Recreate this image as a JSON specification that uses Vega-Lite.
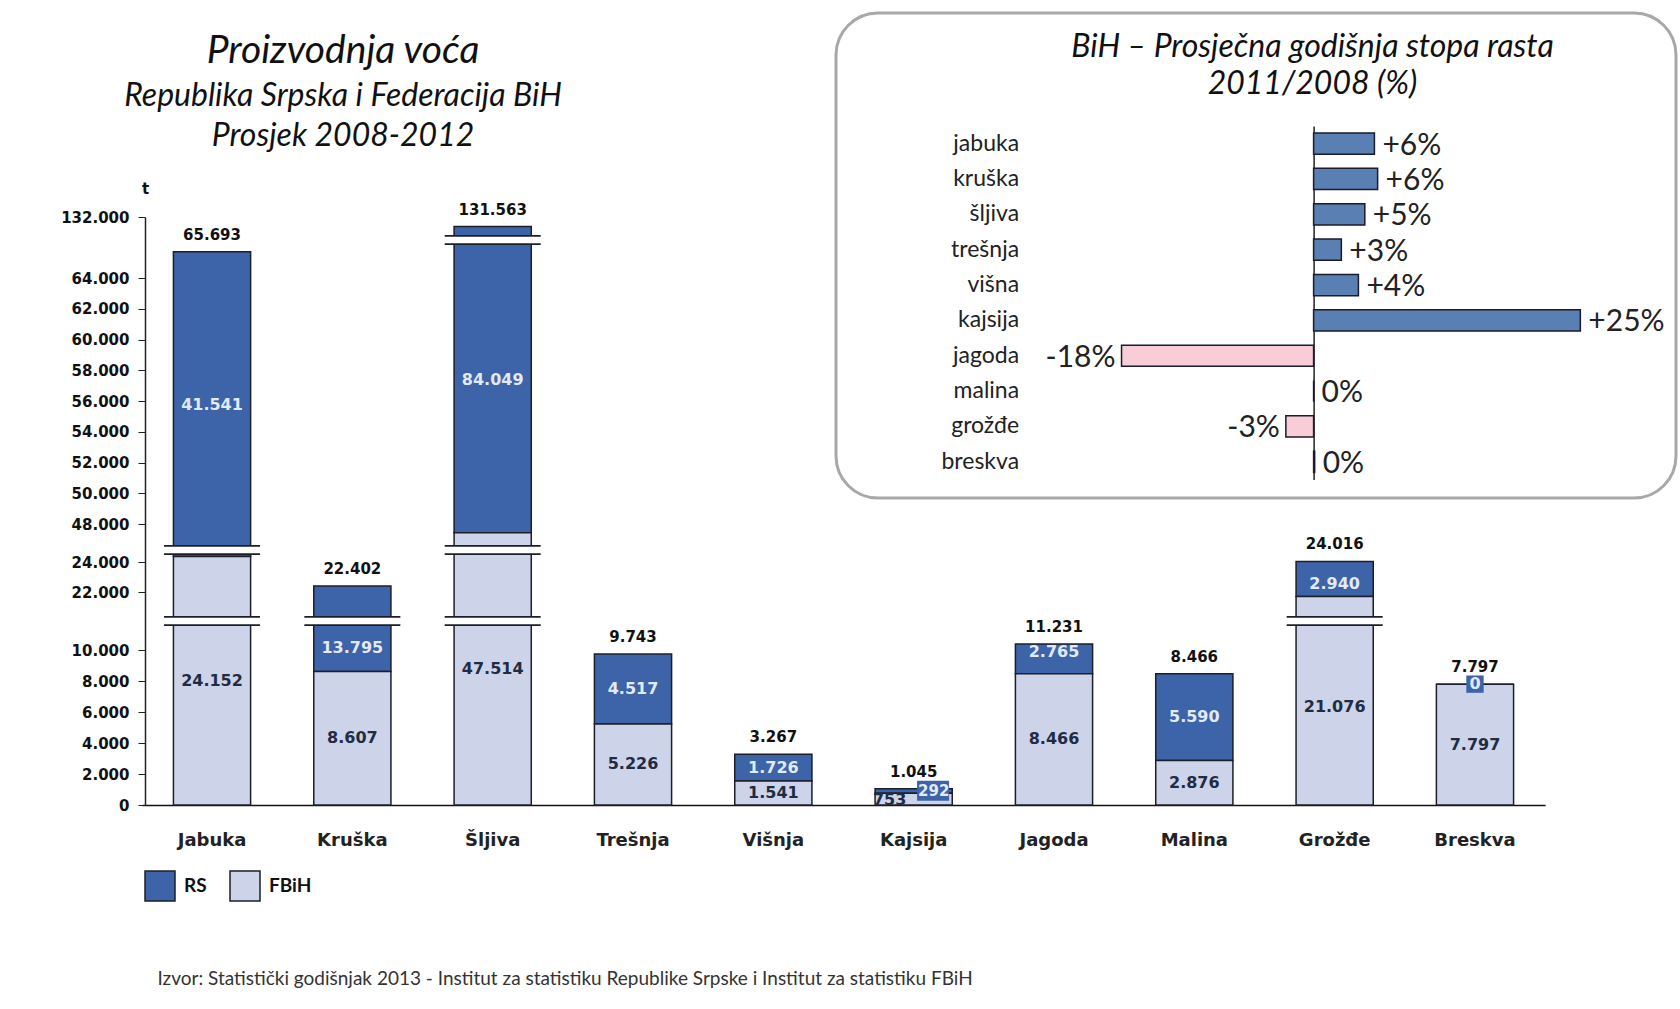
{
  "$schema": "https://vega.github.io/schema/vega-lite/v6.json",
  "autosize": "none",
  "width": 840,
  "height": 485,
  "padding": {"left": 836, "top": 13, "right": 4, "bottom": 511},
  "background": "white",
  "config": {
    "locale": {"number": {"decimal": ",", "thousands": ".", "grouping": [3], "currency": ["", ""]}},
    "view": {"cornerRadius": 42, "stroke": "#a8a8a8", "strokeWidth": 3, "fill": "white"},
    "axis": {"grid": false},
    "font": "Lato"
  },
  "title": {
    "text": "Proizvodnja voća",
    "subtitle": ["Republika Srpska i Federacija BiH", "Prosjek 2008-2012"],
    "anchor": "start",
    "align": "center",
    "frame": "group",
    "dx": -493,
    "dy": 143,
    "offset": 4,
    "font": "Lato",
    "fontSize": 39,
    "fontStyle": "italic",
    "fontWeight": "normal",
    "color": "#111",
    "subtitleFont": "Lato",
    "subtitleFontSize": 32,
    "subtitleFontStyle": "italic",
    "subtitleColor": "#111",
    "subtitlePadding": 10,
    "subtitleLineHeight": 40
  },
  "datasets": {
    "prod": [
      {"fruit": "Jabuka", "series": "RS", "value": 41541},
      {"fruit": "Jabuka", "series": "FBiH", "value": 24152},
      {"fruit": "Kruška", "series": "RS", "value": 13795},
      {"fruit": "Kruška", "series": "FBiH", "value": 8607},
      {"fruit": "Šljiva", "series": "RS", "value": 84049},
      {"fruit": "Šljiva", "series": "FBiH", "value": 47514},
      {"fruit": "Trešnja", "series": "RS", "value": 4517},
      {"fruit": "Trešnja", "series": "FBiH", "value": 5226},
      {"fruit": "Višnja", "series": "RS", "value": 1726},
      {"fruit": "Višnja", "series": "FBiH", "value": 1541},
      {"fruit": "Kajsija", "series": "RS", "value": 292},
      {"fruit": "Kajsija", "series": "FBiH", "value": 753},
      {"fruit": "Jagoda", "series": "RS", "value": 2765},
      {"fruit": "Jagoda", "series": "FBiH", "value": 8466},
      {"fruit": "Malina", "series": "RS", "value": 5590},
      {"fruit": "Malina", "series": "FBiH", "value": 2876},
      {"fruit": "Grožđe", "series": "RS", "value": 2940},
      {"fruit": "Grožđe", "series": "FBiH", "value": 21076},
      {"fruit": "Breskva", "series": "RS", "value": 0},
      {"fruit": "Breskva", "series": "FBiH", "value": 7797}
    ],
    "growth": [
      {"name": "jabuka", "growth": 5.7, "label": "+6%"},
      {"name": "kruška", "growth": 6.0, "label": "+6%"},
      {"name": "šljiva", "growth": 4.8, "label": "+5%"},
      {"name": "trešnja", "growth": 2.6, "label": "+3%"},
      {"name": "višna", "growth": 4.2, "label": "+4%"},
      {"name": "kajsija", "growth": 25.0, "label": "+25%"},
      {"name": "jagoda", "growth": -18.0, "label": "-18%"},
      {"name": "malina", "growth": 0, "label": "0%"},
      {"name": "grožđe", "growth": -2.6, "label": "-3%"},
      {"name": "breskva", "growth": 0.1, "label": "0%"}
    ]
  },
  "layer": [
    {
      "data": {"name": "prod"},
      "encoding": {
        "x": {
          "field": "fruit", "type": "nominal",
          "sort": ["Jabuka", "Kruška", "Šljiva", "Trešnja", "Višnja", "Kajsija", "Jagoda", "Malina", "Grožđe", "Breskva"],
          "scale": {"range": [-694.15, 709.15], "paddingInner": 0.45, "paddingOuter": 0.225},
          "axis": {
            "orient": "bottom", "offset": 307, "labelAngle": 0, "ticks": false, "labelPadding": 26,
            "labelFont": "DejaVu Sans", "labelFontWeight": "bold", "labelFontSize": 18, "labelColor": "#222",
            "domainColor": "#111", "domainWidth": 1.5,
            "title": "Izvor: Statistički godišnjak 2013 - Institut za statistiku Republike Srpske i Institut za statistiku FBiH",
            "titleX": -679, "titleY": 173, "titleAlign": "left", "titleBaseline": "middle",
            "titleFont": "Lato", "titleFontSize": 19, "titleFontWeight": "normal", "titleColor": "#333"
          }
        }
      },
      "layer": [
        {
          "mark": {"type": "bar", "stroke": "#1c1f2a", "strokeWidth": 1.5},
          "encoding": {
            "y": {
              "field": "value", "type": "quantitative", "stack": "zero",
              "scale": {"domain": [0, 10000, 22000, 24000, 24300, 47500, 48000, 64000, 66000, 131500, 132000], "range": [792, 637, 579, 549, 538, 520, 511, 265, 234, 215, 204], "nice": false, "zero": false},
              "axis": {
                "orient": "left", "offset": 691, "labelOverlap": false, "tickCount": 60,
                "values": [0, 2000, 4000, 6000, 8000, 10000, 22000, 24000, 48000, 50000, 52000, 54000, 56000, 58000, 60000, 62000, 64000, 132000],
                "format": ",d", "labelFont": "DejaVu Sans", "labelFontWeight": "bold", "labelFontSize": 15, "labelColor": "#111",
                "tickSize": 7, "tickColor": "#222", "domainColor": "#222", "domainWidth": 1.5, "labelPadding": 9,
                "title": "t", "titleAngle": 0, "titleX": 0, "titleY": 175, "titleAlign": "center", "titleBaseline": "middle",
                "titleFont": "DejaVu Sans", "titleFontWeight": "bold", "titleFontSize": 15, "titleColor": "#111"
              }
            },
            "color": {
              "field": "series", "type": "nominal",
              "scale": {"domain": ["RS", "FBiH"], "range": ["#3d63a9", "#cdd3e8"]},
              "legend": {
                "orient": "none", "legendX": -692, "legendY": 857, "direction": "horizontal", "title": null,
                "symbolType": "square", "symbolSize": 900, "symbolStrokeColor": "#1c1f2a", "symbolStrokeWidth": 1.5,
                "labelFont": "Lato", "labelFontSize": 19, "labelFontWeight": "bold", "labelColor": "#111", "labelOffset": 8, "columnPadding": 20
              }
            },
            "order": {"field": "series", "sort": "ascending"}
          }
        },
        {
          "transform": [
            {"aggregate": [{"op": "sum", "field": "value", "as": "total"}], "groupby": ["fruit"]},
            {"filter": "datum.total > 16000"}
          ],
          "mark": {"type": "tick", "orient": "horizontal", "color": "#1c1f2a", "thickness": 10, "size": 96, "opacity": 1},
          "encoding": {
            "y": {"datum": 16000, "type": "quantitative",
                  "scale": {"domain": [0, 10000, 22000, 24000, 24300, 47500, 48000, 64000, 66000, 131500, 132000], "range": [792, 637, 579, 549, 538, 520, 511, 265, 234, 215, 204], "nice": false, "zero": false}}
          }
        },
        {
          "transform": [
            {"aggregate": [{"op": "sum", "field": "value", "as": "total"}], "groupby": ["fruit"]},
            {"filter": "datum.total > 16000"}
          ],
          "mark": {"type": "tick", "orient": "horizontal", "color": "white", "thickness": 6.5, "size": 100, "opacity": 1},
          "encoding": {
            "y": {"datum": 16000, "type": "quantitative",
                  "scale": {"domain": [0, 10000, 22000, 24000, 24300, 47500, 48000, 64000, 66000, 131500, 132000], "range": [792, 637, 579, 549, 538, 520, 511, 265, 234, 215, 204], "nice": false, "zero": false}}
          }
        },
        {
          "transform": [
            {"aggregate": [{"op": "sum", "field": "value", "as": "total"}], "groupby": ["fruit"]},
            {"filter": "datum.total > 32000"}
          ],
          "mark": {"type": "tick", "orient": "horizontal", "color": "#1c1f2a", "thickness": 10, "size": 96, "opacity": 1},
          "encoding": {
            "y": {"datum": 25500, "type": "quantitative",
                  "scale": {"domain": [0, 10000, 22000, 24000, 24300, 47500, 48000, 64000, 66000, 131500, 132000], "range": [792, 637, 579, 549, 538, 520, 511, 265, 234, 215, 204], "nice": false, "zero": false}}
          }
        },
        {
          "transform": [
            {"aggregate": [{"op": "sum", "field": "value", "as": "total"}], "groupby": ["fruit"]},
            {"filter": "datum.total > 32000"}
          ],
          "mark": {"type": "tick", "orient": "horizontal", "color": "white", "thickness": 6.5, "size": 100, "opacity": 1},
          "encoding": {
            "y": {"datum": 25500, "type": "quantitative",
                  "scale": {"domain": [0, 10000, 22000, 24000, 24300, 47500, 48000, 64000, 66000, 131500, 132000], "range": [792, 637, 579, 549, 538, 520, 511, 265, 234, 215, 204], "nice": false, "zero": false}}
          }
        },
        {
          "transform": [
            {"aggregate": [{"op": "sum", "field": "value", "as": "total"}], "groupby": ["fruit"]},
            {"filter": "datum.total > 100000"}
          ],
          "mark": {"type": "tick", "orient": "horizontal", "color": "#1c1f2a", "thickness": 10, "size": 96, "opacity": 1},
          "encoding": {
            "y": {"datum": 90000, "type": "quantitative",
                  "scale": {"domain": [0, 10000, 22000, 24000, 24300, 47500, 48000, 64000, 66000, 131500, 132000], "range": [792, 637, 579, 549, 538, 520, 511, 265, 234, 215, 204], "nice": false, "zero": false}}
          }
        },
        {
          "transform": [
            {"aggregate": [{"op": "sum", "field": "value", "as": "total"}], "groupby": ["fruit"]},
            {"filter": "datum.total > 100000"}
          ],
          "mark": {"type": "tick", "orient": "horizontal", "color": "white", "thickness": 6.5, "size": 100, "opacity": 1},
          "encoding": {
            "y": {"datum": 90000, "type": "quantitative",
                  "scale": {"domain": [0, 10000, 22000, 24000, 24300, 47500, 48000, 64000, 66000, 131500, 132000], "range": [792, 637, 579, 549, 538, 520, 511, 265, 234, 215, 204], "nice": false, "zero": false}}
          }
        },
        {
          "transform": [
            {"stack": "value", "groupby": ["fruit"], "sort": [{"field": "series", "order": "ascending"}], "as": ["v0", "v1"]},
            {"filter": "datum.series === 'RS' && datum.value === 0"}
          ],
          "mark": {"type": "point", "shape": "square", "filled": true, "size": 300, "color": "#3d63a9", "opacity": 1},
          "encoding": {
            "y": {"field": "v1", "type": "quantitative",
                  "scale": {"domain": [0, 10000, 22000, 24000, 24300, 47500, 48000, 64000, 66000, 131500, 132000], "range": [792, 637, 579, 549, 538, 520, 511, 265, 234, 215, 204], "nice": false, "zero": false}}
          }
        },
        {
          "transform": [
            {"stack": "value", "groupby": ["fruit"], "sort": [{"field": "series", "order": "ascending"}], "as": ["v0", "v1"]},
            {"filter": "datum.fruit === 'Kajsija' && datum.series === 'RS'"}
          ],
          "mark": {"type": "point", "shape": "M-1.6,-1H1.6V1H-1.6Z", "filled": true, "size": 400, "color": "#3d63a9", "opacity": 1},
          "encoding": {
            "y": {"field": "v1", "type": "quantitative",
                  "scale": {"domain": [0, 10000, 22000, 24000, 24300, 47500, 48000, 64000, 66000, 131500, 132000], "range": [792, 637, 579, 549, 538, 520, 511, 265, 234, 215, 204], "nice": false, "zero": false}},
            "xOffset": {"value": 58},
            "yOffset": {"value": 2}
          }
        },
        {
          "mark": {"type": "text", "font": "DejaVu Sans", "fontWeight": "bold", "fontSize": 16, "baseline": "middle"},
          "encoding": {
            "y": {"field": "value", "type": "quantitative", "stack": "zero", "bandPosition": 0.5,
                  "scale": {"domain": [0, 10000, 22000, 24000, 24300, 47500, 48000, 64000, 66000, 131500, 132000], "range": [792, 637, 579, 549, 538, 520, 511, 265, 234, 215, 204], "nice": false, "zero": false}},
            "order": {"field": "series", "sort": "ascending"},
            "text": {"field": "value", "type": "quantitative", "format": ",d"},
            "color": {"condition": {"test": "datum.series === 'RS'", "value": "#e2eaf6"}, "value": "#1f2d44"},
            "opacity": {"condition": {"test": "datum.fruit === 'Kajsija' || datum.fruit === 'Jabuka' || datum.fruit === 'Šljiva' || (datum.series === 'FBiH' && datum.fruit === 'Grožđe') || (datum.series === 'RS' && datum.fruit === 'Kruška')", "value": 0}, "value": 1}
          }
        },
        {
          "transform": [
            {"stack": "value", "groupby": ["fruit"], "sort": [{"field": "series", "order": "ascending"}], "as": ["v0", "v1"]},
            {"filter": "datum.series === 'RS' && (datum.fruit === 'Jabuka' || datum.fruit === 'Šljiva')"}
          ],
          "mark": {"type": "text", "font": "DejaVu Sans", "fontWeight": "bold", "fontSize": 16, "baseline": "middle", "dy": 153, "color": "#e2eaf6"},
          "encoding": {
            "y": {"field": "v1", "type": "quantitative",
                  "scale": {"domain": [0, 10000, 22000, 24000, 24300, 47500, 48000, 64000, 66000, 131500, 132000], "range": [792, 637, 579, 549, 538, 520, 511, 265, 234, 215, 204], "nice": false, "zero": false}},
            "text": {"field": "value", "type": "quantitative", "format": ",d"}
          }
        },
        {
          "transform": [
            {"stack": "value", "groupby": ["fruit"], "sort": [{"field": "series", "order": "ascending"}], "as": ["v0", "v1"]},
            {"filter": "datum.series === 'RS' && datum.fruit === 'Kruška'"}
          ],
          "mark": {"type": "text", "font": "DejaVu Sans", "fontWeight": "bold", "fontSize": 16, "baseline": "middle", "dy": -24, "color": "#e2eaf6"},
          "encoding": {
            "y": {"field": "v0", "type": "quantitative",
                  "scale": {"domain": [0, 10000, 22000, 24000, 24300, 47500, 48000, 64000, 66000, 131500, 132000], "range": [792, 637, 579, 549, 538, 520, 511, 265, 234, 215, 204], "nice": false, "zero": false}},
            "text": {"field": "value", "type": "quantitative", "format": ",d"}
          }
        },
        {
          "transform": [
            {"stack": "value", "groupby": ["fruit"], "sort": [{"field": "series", "order": "ascending"}], "as": ["v0", "v1"]},
            {"filter": "datum.series === 'FBiH' && datum.fruit === 'Jabuka'"}
          ],
          "mark": {"type": "text", "font": "DejaVu Sans", "fontWeight": "bold", "fontSize": 16, "baseline": "middle", "dy": -124, "color": "#1f2d44"},
          "encoding": {
            "y": {"field": "v0", "type": "quantitative",
                  "scale": {"domain": [0, 10000, 22000, 24000, 24300, 47500, 48000, 64000, 66000, 131500, 132000], "range": [792, 637, 579, 549, 538, 520, 511, 265, 234, 215, 204], "nice": false, "zero": false}},
            "text": {"field": "value", "type": "quantitative", "format": ",d"}
          }
        },
        {
          "transform": [
            {"stack": "value", "groupby": ["fruit"], "sort": [{"field": "series", "order": "ascending"}], "as": ["v0", "v1"]},
            {"filter": "datum.series === 'FBiH' && datum.fruit === 'Šljiva'"}
          ],
          "mark": {"type": "text", "font": "DejaVu Sans", "fontWeight": "bold", "fontSize": 16, "baseline": "middle", "dy": -136, "color": "#1f2d44"},
          "encoding": {
            "y": {"field": "v0", "type": "quantitative",
                  "scale": {"domain": [0, 10000, 22000, 24000, 24300, 47500, 48000, 64000, 66000, 131500, 132000], "range": [792, 637, 579, 549, 538, 520, 511, 265, 234, 215, 204], "nice": false, "zero": false}},
            "text": {"field": "value", "type": "quantitative", "format": ",d"}
          }
        },
        {
          "transform": [
            {"stack": "value", "groupby": ["fruit"], "sort": [{"field": "series", "order": "ascending"}], "as": ["v0", "v1"]},
            {"filter": "datum.series === 'FBiH' && datum.fruit === 'Grožđe'"}
          ],
          "mark": {"type": "text", "font": "DejaVu Sans", "fontWeight": "bold", "fontSize": 16, "baseline": "middle", "dy": -98, "color": "#1f2d44"},
          "encoding": {
            "y": {"field": "v0", "type": "quantitative",
                  "scale": {"domain": [0, 10000, 22000, 24000, 24300, 47500, 48000, 64000, 66000, 131500, 132000], "range": [792, 637, 579, 549, 538, 520, 511, 265, 234, 215, 204], "nice": false, "zero": false}},
            "text": {"field": "value", "type": "quantitative", "format": ",d"}
          }
        },
        {
          "transform": [
            {"stack": "value", "groupby": ["fruit"], "sort": [{"field": "series", "order": "ascending"}], "as": ["v0", "v1"]},
            {"filter": "datum.fruit === 'Kajsija' && datum.series === 'FBiH'"}
          ],
          "mark": {"type": "text", "font": "DejaVu Sans", "fontWeight": "bold", "fontSize": 16, "baseline": "middle", "dx": -24, "dy": 7, "color": "#1f2d44"},
          "encoding": {
            "y": {"field": "v1", "type": "quantitative",
                  "scale": {"domain": [0, 10000, 22000, 24000, 24300, 47500, 48000, 64000, 66000, 131500, 132000], "range": [792, 637, 579, 549, 538, 520, 511, 265, 234, 215, 204], "nice": false, "zero": false}},
            "text": {"field": "value", "type": "quantitative", "format": ",d"}
          }
        },
        {
          "transform": [
            {"stack": "value", "groupby": ["fruit"], "sort": [{"field": "series", "order": "ascending"}], "as": ["v0", "v1"]},
            {"filter": "datum.fruit === 'Kajsija' && datum.series === 'RS'"}
          ],
          "mark": {"type": "text", "font": "DejaVu Sans", "fontWeight": "bold", "fontSize": 15, "baseline": "middle", "dx": 20, "dy": 2, "color": "#e2eaf6"},
          "encoding": {
            "y": {"field": "v1", "type": "quantitative",
                  "scale": {"domain": [0, 10000, 22000, 24000, 24300, 47500, 48000, 64000, 66000, 131500, 132000], "range": [792, 637, 579, 549, 538, 520, 511, 265, 234, 215, 204], "nice": false, "zero": false}},
            "text": {"field": "value", "type": "quantitative", "format": ",d"}
          }
        },
        {
          "mark": {"type": "text", "font": "DejaVu Sans", "fontWeight": "bold", "fontSize": 15, "baseline": "bottom", "dy": -9, "color": "#111"},
          "encoding": {
            "y": {"aggregate": "sum", "field": "value", "type": "quantitative",
                  "scale": {"domain": [0, 10000, 22000, 24000, 24300, 47500, 48000, 64000, 66000, 131500, 132000], "range": [792, 637, 579, 549, 538, 520, 511, 265, 234, 215, 204], "nice": false, "zero": false}},
            "text": {"aggregate": "sum", "field": "value", "type": "quantitative", "format": ",d"}
          }
        }
      ]
    },
    {
      "data": {"name": "growth"},
      "layer": [
        {
          "mark": {"type": "bar", "stroke": "#1b1b2b", "strokeWidth": 1.5},
          "encoding": {
            "x": {
              "field": "growth", "type": "quantitative",
              "scale": {"domain": [-20, 30], "range": [264.2, 797.7], "nice": false, "zero": false},
              "axis": {
                "orient": "top", "labels": false, "ticks": false, "domain": false,
                "title": ["BiH – Prosječna godišnja stopa rasta", "2011/2008 (%)"],
                "titleX": 476, "titleY": 33, "titleAlign": "center", "titleBaseline": "middle", "titleLineHeight": 37,
                "titleFont": "Lato", "titleFontSize": 32, "titleFontStyle": "italic", "titleFontWeight": "normal", "titleColor": "#111"
              }
            },
            "y": {
              "field": "name", "type": "nominal",
              "sort": ["jabuka", "kruška", "šljiva", "trešnja", "višna", "kajsija", "jagoda", "malina", "grožđe", "breskva"],
              "scale": {"range": [112.9, 466.5], "paddingInner": 0.4, "paddingOuter": 0.2},
              "axis": {"orient": "left", "offset": -477.6, "labels": false, "ticks": false, "title": null, "domainColor": "#222", "domainWidth": 1.5}
            },
            "color": {"condition": {"test": "datum.growth < 0", "value": "#f8cdd8"}, "value": "#5a7fb2"}
          }
        },
        {
          "mark": {"type": "text", "font": "Lato", "fontSize": 23, "align": "right", "baseline": "middle", "color": "#222"},
          "encoding": {
            "x": {"datum": -27.6, "type": "quantitative", "scale": {"domain": [-20, 30], "range": [264.2, 797.7], "nice": false, "zero": false}},
            "y": {"field": "name", "type": "nominal",
                  "sort": ["jabuka", "kruška", "šljiva", "trešnja", "višna", "kajsija", "jagoda", "malina", "grožđe", "breskva"],
                  "scale": {"range": [112.9, 466.5], "paddingInner": 0.4, "paddingOuter": 0.2}},
            "text": {"field": "name", "type": "nominal"}
          }
        },
        {
          "transform": [{"filter": "datum.growth >= 0"}],
          "mark": {"type": "text", "font": "Lato", "fontSize": 30, "align": "left", "baseline": "middle", "dx": 8, "dy": 2, "color": "#222"},
          "encoding": {
            "x": {"field": "growth", "type": "quantitative", "scale": {"domain": [-20, 30], "range": [264.2, 797.7], "nice": false, "zero": false}},
            "y": {"field": "name", "type": "nominal",
                  "sort": ["jabuka", "kruška", "šljiva", "trešnja", "višna", "kajsija", "jagoda", "malina", "grožđe", "breskva"],
                  "scale": {"range": [112.9, 466.5], "paddingInner": 0.4, "paddingOuter": 0.2}},
            "text": {"field": "label", "type": "nominal"}
          }
        },
        {
          "transform": [{"filter": "datum.growth < 0"}],
          "mark": {"type": "text", "font": "Lato", "fontSize": 30, "align": "right", "baseline": "middle", "dx": -6, "dy": 2, "color": "#222"},
          "encoding": {
            "x": {"field": "growth", "type": "quantitative", "scale": {"domain": [-20, 30], "range": [264.2, 797.7], "nice": false, "zero": false}},
            "y": {"field": "name", "type": "nominal",
                  "sort": ["jabuka", "kruška", "šljiva", "trešnja", "višna", "kajsija", "jagoda", "malina", "grožđe", "breskva"],
                  "scale": {"range": [112.9, 466.5], "paddingInner": 0.4, "paddingOuter": 0.2}},
            "text": {"field": "label", "type": "nominal"}
          }
        }
      ]
    }
  ],
  "resolve": {
    "scale": {"x": "independent", "y": "independent", "color": "independent"},
    "axis": {"x": "independent", "y": "independent"}
  }
}
